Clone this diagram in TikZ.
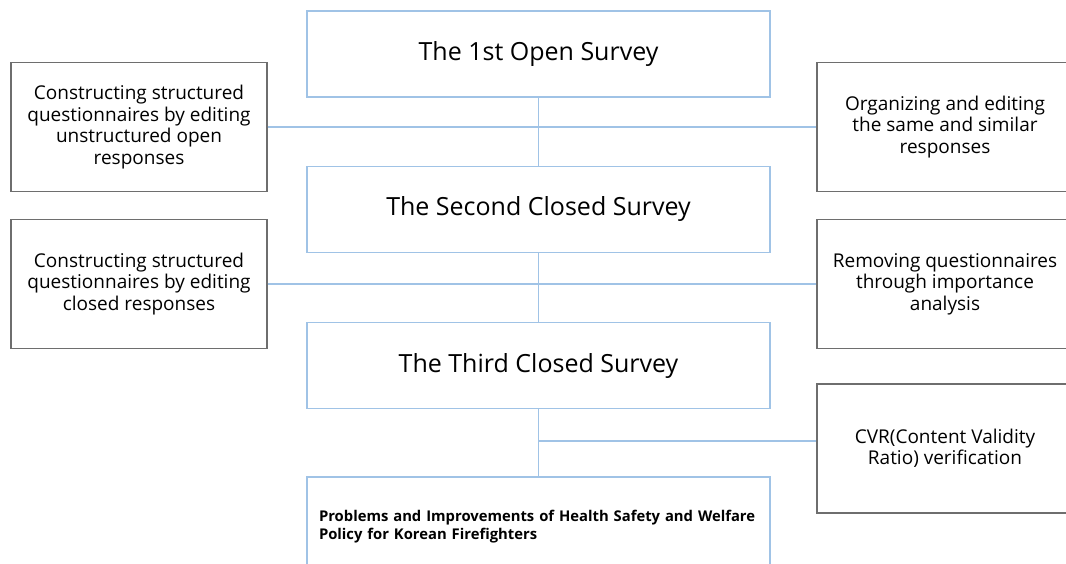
\documentclass[tikz,border=0pt]{standalone}
\usepackage{fontspec}
\setmainfont{Open Sans}
\definecolor{boxblue}{RGB}{160,195,230}
\definecolor{boxgray}{RGB}{110,110,110}
\tikzset{>=stealth}
\tikzset{
  stage/.style={draw=boxblue, line width=1.2pt, minimum width=463pt, minimum height=86pt,
    inner sep=0pt, font=\fontsize{25}{29}\selectfont},
  side/.style={draw=boxgray, line width=1.2pt, minimum width=256pt, minimum height=129pt,
    inner sep=0pt, align=center, font=\fontsize{19}{21.5}\selectfont},
  link/.style={draw=boxblue, line width=1.2pt}
}

\begin{document}
\begin{tikzpicture}[x=1pt,y=-1pt]
\clip (0,0) rectangle (1066,563);
\fill[white] (0,0) rectangle (1066,563);
% survey stages
\node[stage] (open1) at (538.5,54) {The 1st Open Survey};
\node[stage] (closed2) at (538.5,209.5) {The Second Closed Survey};
\node[stage] (closed3) at (538.5,365.5) {The Third Closed Survey};
\node[stage, minimum height=100pt, text width=439pt, inner xsep=12pt, align=left,
  font=\fontsize{14.8}{18}\selectfont\bfseries] (policy) at (538.5,527)
  {Problems and Improvements of Health Safety and Welfare\\Policy for Korean Firefighters};
% side notes
\node[side] (left1) at (139,127) {Constructing structured\\questionnaires by editing\\unstructured open\\responses};
\node[side] (left2) at (139,284) {Constructing structured\\questionnaires by editing\\closed responses};
\node[side] (right1) at (945,127) {Organizing and editing\\the same and similar\\responses};
\node[side] (right2) at (945,284) {Removing questionnaires\\through importance\\analysis};
\node[side] (cvr) at (945,448.5) {CVR(Content Validity\\Ratio) verification};
% connectors
\draw[link] (open1) -- (closed2);
\draw[link] (closed2) -- (closed3);
\draw[link] (closed3) -- (closed3 |- policy.north);
\draw[link] (left1) -- (right1);
\draw[link] (left2) -- (right2);
\coordinate (j3) at (538.5,441);
\draw[link] (j3) -- (j3 -| cvr.west);
\end{tikzpicture}
\end{document}
